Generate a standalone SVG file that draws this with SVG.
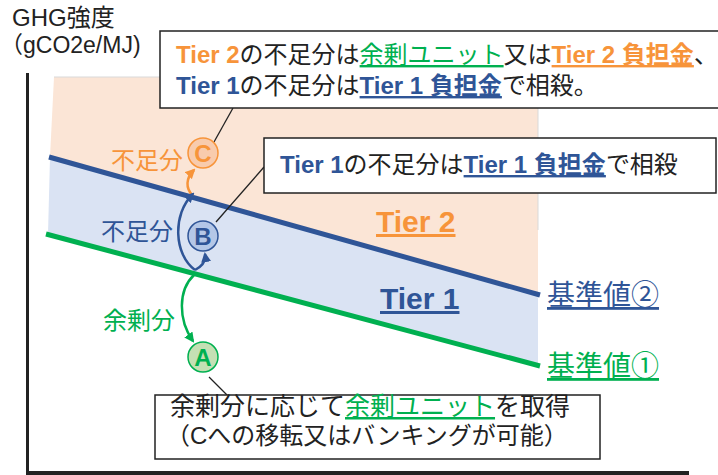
<svg xmlns="http://www.w3.org/2000/svg" width="718" height="475" viewBox="0 0 718 475">
<style>
text{font-family:"Liberation Sans","Noto Sans CJK JP",sans-serif;fill:#222}
.b{font-weight:bold}
.u{text-decoration:underline}
.or{fill:#F7943A}
.bl{fill:#2F5597}
.gr{fill:#00B050}
.box{fill:#fff;stroke:#222;stroke-width:1.5}
.lead{stroke:#222;stroke-width:1.3;fill:none}
</style>
<defs>
<marker id="ao" viewBox="0 0 10 10" refX="8" refY="5" markerWidth="4" markerHeight="4" orient="auto"><path d="M0,0L10,5L0,10z" fill="#F7943A"/></marker>
<marker id="ab" viewBox="0 0 10 10" refX="8" refY="5" markerWidth="4" markerHeight="4" orient="auto"><path d="M0,0L10,5L0,10z" fill="#2F5597"/></marker>
<marker id="ag" viewBox="0 0 10 10" refX="8" refY="5" markerWidth="4" markerHeight="4" orient="auto"><path d="M0,0L10,5L0,10z" fill="#00B050"/></marker>
</defs>
<g id="regions">
<polygon points="54,77 538,77 538,294 50,157" fill="#FBE5D6"/>
<polyline points="54,77 538,77 538,230" fill="none" stroke="#d9d9d9" stroke-width="1"/>
<polygon points="50,157 538,294 538,364 48,234" fill="#DAE3F3"/>
</g>
<g id="axes">
<line x1="27.5" y1="73" x2="27.5" y2="475" stroke="#222" stroke-width="3"/>
<line x1="26" y1="473" x2="689" y2="473" stroke="#222" stroke-width="4"/>
<text x="12" y="26" font-size="24">GHG強度</text>
<text x="0" y="53" font-size="23">（gCO2e/MJ)</text>
</g>
<g id="baseline2">
<line x1="49" y1="157" x2="540" y2="295" stroke="#2F5597" stroke-width="5"/>
<text x="547" y="305" font-size="28" class="bl u">基準値②</text>
</g>
<g id="baseline1">
<line x1="46" y1="234" x2="540" y2="366" stroke="#00B050" stroke-width="5"/>
<text x="547" y="376" font-size="28" class="gr u">基準値①</text>
</g>
<g id="tier2"><text x="376" y="232" font-size="30" class="or b u">Tier 2</text></g>
<g id="tier1"><text x="380" y="309" font-size="30" class="bl b u">Tier 1</text></g>
<g id="connectors">
<path d="M193,196 C185,188 186,178 194,170" stroke="#F7943A" stroke-width="2.5" fill="none" marker-end="url(#ao)"/>
<path d="M195,270 C174,255 172,214 193,194" stroke="#2F5597" stroke-width="2.5" fill="none" marker-end="url(#ab)"/>
<path d="M195,270 C203,266 206,261 205,254" stroke="#2F5597" stroke-width="2.5" fill="none" marker-end="url(#ab)"/>
<path d="M194,275 C178,290 178,320 193,341" stroke="#00B050" stroke-width="2.5" fill="none" marker-end="url(#ag)"/>
<line class="lead" x1="233" y1="108" x2="214" y2="142"/>
<line class="lead" x1="216" y1="222" x2="264" y2="167"/>
<line class="lead" x1="209" y1="377" x2="227" y2="395"/>
</g>
<g id="labelC"><text x="111" y="169" font-size="24" class="or">不足分</text></g>
<g id="labelB"><text x="101" y="240" font-size="24" class="bl">不足分</text></g>
<g id="labelA"><text x="103" y="329" font-size="24" class="gr">余剰分</text></g>
<g id="nodeC">
<circle cx="203" cy="153" r="15" fill="#F8CBAD" stroke="#F7943A" stroke-width="1.5"/>
<text x="203" y="162" font-size="24" text-anchor="middle" class="or b">C</text>
</g>
<g id="nodeB">
<circle cx="203" cy="236" r="15" fill="#B4C7E7" stroke="#2F5597" stroke-width="1.5"/>
<text x="203" y="245" font-size="24" text-anchor="middle" class="bl b">B</text>
</g>
<g id="nodeA">
<circle cx="203" cy="357" r="15" fill="#C5E0B4" stroke="#00B050" stroke-width="1.5"/>
<text x="203" y="366" font-size="24" text-anchor="middle" class="gr b">A</text>
</g>
<g id="calloutTop">
<rect class="box" x="160" y="31" width="570" height="77"/>
<text x="176" y="63" font-size="24"><tspan class="or b">Tier 2</tspan>の不足分は<tspan class="gr u">余剰ユニット</tspan>又は<tspan class="or b u">Tier 2 負担金</tspan>、</text>
<text x="176" y="94" font-size="24"><tspan class="bl b">Tier 1</tspan>の不足分は<tspan class="bl b u">Tier 1 負担金</tspan>で相殺。</text>
</g>
<g id="calloutB">
<rect class="box" x="264" y="138" width="452" height="55"/>
<text x="280" y="173" font-size="24"><tspan class="bl b">Tier 1</tspan>の不足分は<tspan class="bl b u">Tier 1 負担金</tspan>で相殺</text>
</g>
<g id="calloutA">
<rect class="box" x="155" y="395" width="445" height="64"/>
<text x="170" y="415" font-size="25">余剰分に応じて<tspan class="gr u">余剰ユニット</tspan>を取得</text>
<text x="166" y="444" font-size="24">（Cへの移転又はバンキングが可能）</text>
</g>
</svg>
